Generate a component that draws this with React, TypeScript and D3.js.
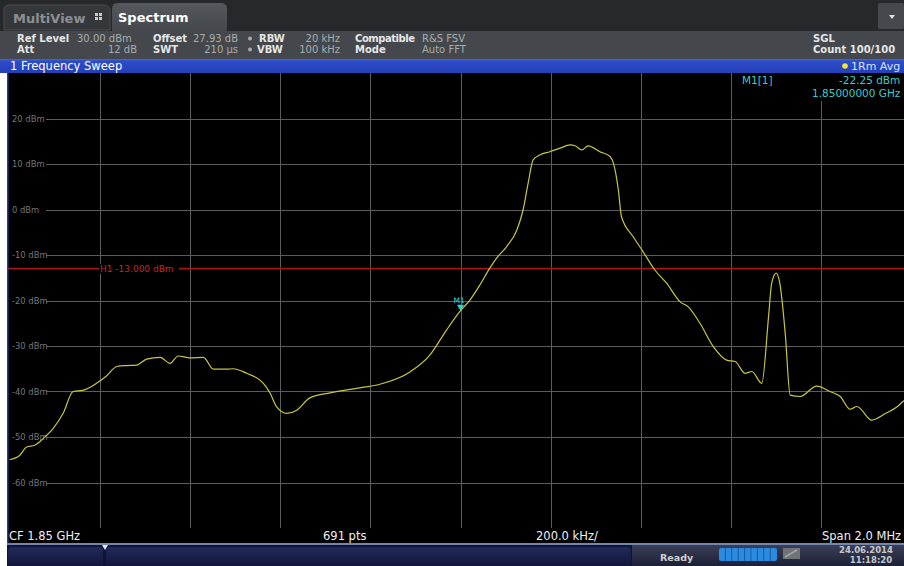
import React from "react";
import * as d3 from "d3";

const freqOffsetsKHz = [
  -1000, -977, -962, -944, -925, -903, -881, -859, -836, -807, -785, -762, -740, -718, -696,
  -666, -644, -626, -600, -570, -548, -518, -504, -474, -437, -422, -408, -385, -363, -334,
  -289, -223, -179, -112, -68, -31, 0, 21, 43, 65, 80, 102, 125, 139, 150, 161, 176, 198,
  221, 243, 254, 269, 283, 309, 332, 339, 350, 357, 383, 405, 431, 457, 487, 505, 531, 561,
  590, 609, 631, 646, 668, 683, 690, 700, 708, 720, 731, 753, 790, 819, 842, 864, 879, 912,
  943, 969, 981, 1000,
];
const levelsDbm = [
  -55.0, -54.0, -52.2, -51.8, -50.3, -48.1, -44.8, -40.0, -39.7, -38.2, -36.6, -34.5, -34.3, -34.2, -32.9,
  -32.5, -33.8, -32.2, -32.6, -32.5, -35.1, -35.1, -35.0, -36.0, -38.2, -40.4, -43.3, -44.8, -44.1, -41.4,
  -40.3, -39.2, -38.4, -35.7, -32.0, -26.5, -22.25, -19.9, -16.6, -12.9, -10.7, -8.2, -4.5, 0.0, 5.8, 10.9, 12.0, 12.7,
  13.5, 14.2, 14.0, 13.1, 14.0, 12.7, 11.6, 10.2, 4.3, -1.6, -6.0, -9.3, -13.3, -16.2, -20.3, -21.4, -25.0, -30.2,
  -33.1, -33.4, -36.0, -35.6, -38.2, -23.6, -16.2, -14.0, -16.2, -27.2, -40.8, -41.1, -38.8, -40.0, -41.1, -43.9, -43.3, -46.3,
  -44.8, -43.3, -42.2, -41.0,
];

const yTickValues = [20, 10, 0, -10, -20, -30, -40, -50, -60];
const xGridValues = [-800, -600, -400, -200, 0, 200, 400, 600, 800, 1000];
const limitLineDbm = -13;
const markerFreqKHz = 0;
const markerLevelDbm = -22.25;

const FONT = "'DejaVu Sans', Verdana, sans-serif";

export default function App() {
  const W = 904;
  const H = 566;
  const x = d3.scaleLinear().domain([-1000, 1000]).range([9.5, 911.5]);
  const y = d3.scaleLinear().domain([-70, 30]).range([528, 73]);

  const pts: [number, number][] = freqOffsetsKHz.map((f, i) => [f, levelsDbm[i]]);
  const line = d3
    .line<[number, number]>()
    .x((d) => x(d[0]))
    .y((d) => y(d[1]))
    .curve(d3.curveMonotoneX);
  const path = line(pts) || "";

  const mx = x(markerFreqKHz);
  const my = y(markerLevelDbm);
  const hy = y(limitLineDbm);

  const grid = "#5c5c5c";
  const hdrBold = "#e6e6e6";
  const hdrVal = "#a9acaf";

  return (
    <svg
      width={W}
      height={H}
      style={{ position: "absolute", left: 0, top: 0, display: "block", background: "#fff" }}
      fontFamily={FONT}
    >
      <defs>
        <linearGradient id="blueBar" x1="0" y1="0" x2="0" y2="1">
          <stop offset="0" stopColor="#4466dd" />
          <stop offset="0.15" stopColor="#2d4cc8" />
          <stop offset="1" stopColor="#2440b8" />
        </linearGradient>
        <linearGradient id="statusR" x1="0" y1="0" x2="0" y2="1">
          <stop offset="0" stopColor="#3a3f58" />
          <stop offset="1" stopColor="#1c2036" />
        </linearGradient>
        <linearGradient id="navy" x1="0" y1="0" x2="0" y2="1">
          <stop offset="0" stopColor="#232a5c" />
          <stop offset="1" stopColor="#12163a" />
        </linearGradient>
        <linearGradient id="tabSpec" x1="0" y1="0" x2="0" y2="1">
          <stop offset="0" stopColor="#55595d" />
          <stop offset="1" stopColor="#44484c" />
        </linearGradient>
        <clipPath id="plotClip">
          <rect x={8} y={73} width={W - 8} height={455} />
        </clipPath>
      </defs>

      {/* tab bar */}
      <rect x={0} y={0} width={W} height={31} fill="#26292c" />
      <path d="M4,30 L4,10 Q4,5 9,5 L104,5 Q110,5 110,11 L110,30 Z" fill="#35383b" stroke="#4a4d50" />
      <text x={13} y={23} fontSize={13} fontWeight="bold" fill="#8c8f92">MultiView</text>
      <g fill="#c8c8c8">
        <rect x={95} y={13} width={3} height={3} />
        <rect x={99} y={13} width={3} height={3} />
        <rect x={95} y={17} width={3} height={3} />
        <rect x={99} y={17} width={3} height={3} />
      </g>
      <path d="M112,31 L112,9 Q112,3 118,3 L221,3 Q227,3 227,9 L227,31 Z" fill="url(#tabSpec)" />
      <text x={118} y={22} fontSize={13} fontWeight="bold" fill="#ffffff">Spectrum</text>
      <rect x={878} y={3} width={26} height={26} rx={2} fill="#45494d" />
      <path d="M889,15 L895,15 L892,19 Z" fill="#e0e0e0" />

      {/* info header */}
      <rect x={0} y={31} width={W} height={28} fill="#44484c" />
      <g fontSize={10}>
        <text x={17} y={42} fontWeight="bold" fill={hdrBold}>Ref Level</text>
        <text x={77} y={42} fill={hdrVal}>30.00 dBm</text>
        <text x={17} y={53} fontWeight="bold" fill={hdrBold}>Att</text>
        <text x={137} y={53} textAnchor="end" fill={hdrVal}>12 dB</text>

        <text x={153} y={42} fontWeight="bold" fill={hdrBold}>Offset</text>
        <text x={238} y={42} textAnchor="end" fill={hdrVal}>27.93 dB</text>
        <circle cx={250} cy={38.5} r={2} fill={hdrVal} />
        <text x={259} y={42} fontWeight="bold" fill={hdrBold}>RBW</text>
        <text x={340} y={42} textAnchor="end" fill={hdrVal}>20 kHz</text>

        <text x={153} y={53} fontWeight="bold" fill={hdrBold}>SWT</text>
        <text x={238} y={53} textAnchor="end" fill={hdrVal}>210 µs</text>
        <circle cx={250} cy={49.5} r={2} fill={hdrVal} />
        <text x={257} y={53} fontWeight="bold" fill={hdrBold}>VBW</text>
        <text x={340} y={53} textAnchor="end" fill={hdrVal}>100 kHz</text>

        <text x={355} y={42} fontWeight="bold" fill={hdrBold} textLength={60}>Compatible</text>
        <text x={422} y={42} fill={hdrVal}>R&amp;S FSV</text>
        <text x={355} y={53} fontWeight="bold" fill={hdrBold}>Mode</text>
        <text x={422} y={53} fill={hdrVal}>Auto FFT</text>

        <text x={813} y={42} fontWeight="bold" fill={hdrBold}>SGL</text>
        <text x={813} y={53} fontWeight="bold" fill={hdrBold}>Count 100/100</text>
      </g>

      {/* blue title bar */}
      <rect x={0} y={59} width={W} height={14} fill="url(#blueBar)" />
      <text x={10} y={70} fontSize={11.5} fill="#ffffff">1 Frequency Sweep</text>
      <circle cx={845} cy={66} r={2.8} fill="#f2e43a" />
      <text x={851} y={70} fontSize={11} fill="#d6e2ff">1Rm Avg</text>

      {/* plot area */}
      <rect x={8} y={73} width={W - 8} height={471} fill="#000" />
      <g clipPath="url(#plotClip)">
        {yTickValues.concat([-70]).map((v) => (
          <line key={"h" + v} x1={8} x2={W} y1={Math.round(y(v)) + 0.5} y2={Math.round(y(v)) + 0.5} stroke={grid} strokeWidth={1} />
        ))}
        {xGridValues.map((f) => (
          <line key={"v" + f} x1={Math.round(x(f)) + 0.5} x2={Math.round(x(f)) + 0.5} y1={73} y2={528} stroke={grid} strokeWidth={1} />
        ))}

        {/* marker info box */}
        <rect x={736} y={73} width={W - 736} height={28} fill="#000" />
        <g fontSize={10.5} fill="#3ccbcb">
          <text x={742} y={84}>M1[1]</text>
          <text x={839} y={84}>-22.25 dBm</text>
          <text x={812} y={97}>1.85000000 GHz</text>
        </g>

        {/* y labels */}
        {yTickValues.map((v) => (
          <g key={"l" + v}>
            <rect x={8} y={y(v) - 5} width={38} height={10} fill="#000" />
            <text x={12} y={y(v) + 3} fontSize={8.4} fill="#777777">{`${v} dBm`}</text>
          </g>
        ))}

        {/* limit line H1 */}
        <line x1={8} x2={W} y1={hy} y2={hy} stroke="#a81414" strokeWidth={1.6} />
        <rect x={99} y={hy - 5} width={80} height={10} fill="#000" />
        <text x={100} y={hy + 3} fontSize={9} fill="#c42626">H1 -13.000 dBm</text>

        {/* trace */}
        <path d={path} fill="none" stroke="#c8c63e" strokeWidth={1.2} />

        {/* marker M1 */}
        <path d={`M${mx - 3.5},${my - 6} L${mx + 3.5},${my - 6} L${mx},${my} Z`} fill="#3ad0d0" />
        <text x={mx - 7} y={my - 8} fontSize={7.5} fill="#3ad0d0">M1</text>
      </g>

      {/* bottom label row */}
      <g fontSize={11.5} fill="#f0f0f0">
        <text x={9} y={540}>CF 1.85 GHz</text>
        <text x={323} y={540}>691 pts</text>
        <text x={536} y={540}>200.0 kHz/</text>
        <text x={822} y={540}>Span 2.0 MHz</text>
      </g>

      {/* left border */}
      <rect x={7} y={73} width={1.5} height={472} fill="#2a3aa0" />
      <rect x={0} y={73} width={7} height={H - 73} fill="#ffffff" />

      {/* status bar */}
      <rect x={7} y={543} width={W - 7} height={2} fill="#7486b0" />
      <rect x={7} y={545} width={W - 7} height={21} fill="#0f1334" />
      <path d="M8,566 L8,551 Q8,547 13,547 L100,547 Q103,547 103,551 L103,566 Z" fill="url(#navy)" />
      <path d="M106,566 L106,551 Q106,547 111,547 L626,547 Q631,547 631,551 L631,566 Z" fill="url(#navy)" />
      <path d="M102,545 L108,545 L105,550 Z" fill="#dfe4ee" />
      <rect x={632} y={545} width={W - 632} height={21} fill="url(#statusR)" />
      <text x={660} y={561} fontSize={9.5} fontWeight="bold" fill="#d0d0d0">Ready</text>
      <rect x={719} y={548} width={58} height={13} rx={2} fill="#2b8be0" />
      {d3.range(1, 9).map((i) => (
        <line key={"pb" + i} x1={719 + i * 6.4} x2={719 + i * 6.4} y1={548} y2={561} stroke="#1b5aa0" strokeWidth={1} />
      ))}
      <rect x={783} y={548} width={17} height={11} fill="#707478" />
      <path d="M785,557 L797,550" stroke="#a0a4a8" strokeWidth={1.5} />
      <text x={866} y={553} fontSize={8.5} fontWeight="bold" fill="#c8c8cc" textAnchor="middle">24.06.2014</text>
      <text x={871} y={563} fontSize={8.5} fontWeight="bold" fill="#c8c8cc" textAnchor="middle">11:18:20</text>
    </svg>
  );
}
